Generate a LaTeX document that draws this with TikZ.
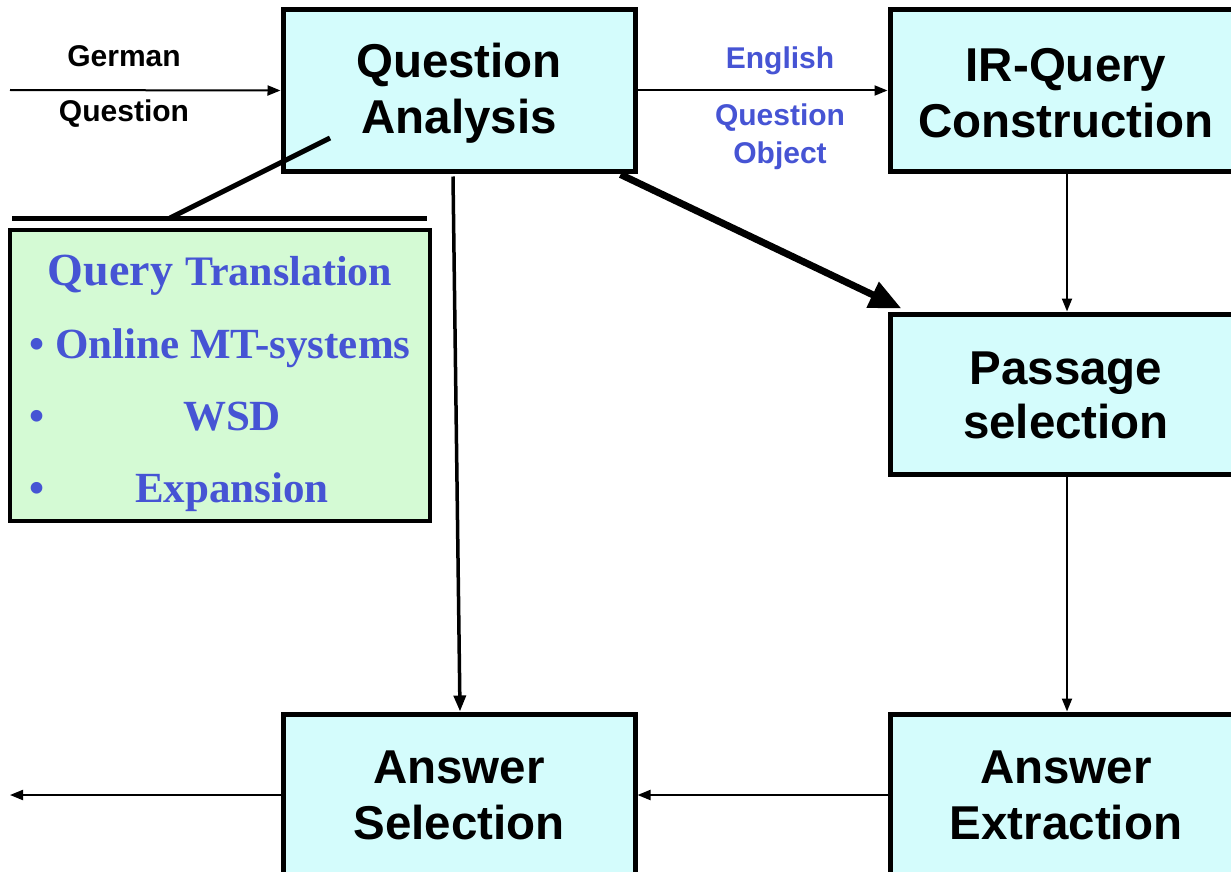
\documentclass[tikz,border=0pt]{standalone}
\usepackage{fontspec}
\setmainfont{Liberation Sans}
\newfontfamily\tnr{Liberation Serif}
\usetikzlibrary{arrows.meta}
\definecolor{boxfill}{RGB}{212,252,252}
\definecolor{greenfill}{RGB}{212,250,212}
\definecolor{lblue}{RGB}{70,84,212}
\tikzset{
  proc/.style={draw=black, line width=5pt, fill=boxfill, inner sep=0pt,
    minimum width=350pt, minimum height=161pt},
  ptext/.style={inner sep=0pt, align=center, font=\bfseries\fontsize{47.5}{56}\selectfont},
  lab/.style={inner sep=0pt, anchor=base, font=\bfseries\fontsize{30}{36}\selectfont},
  bluelab/.style={lab, text=lblue},
  flow/.style={-{Triangle[length=13pt,width=10pt]}, line width=2pt},
  midflow/.style={-{Triangle[length=16pt,width=12pt]}, line width=3.5pt},
  bigflow/.style={-{Triangle[length=32pt,width=27pt]}, line width=7pt},
  callout/.style={line width=5pt},
  qt/.style={inner sep=0pt, anchor=base, text=lblue, font=\tnr\bfseries\fontsize{43}{48}\selectfont},
}
\begin{document}
\begin{tikzpicture}[x=1pt,y=-1pt]
\useasboundingbox (0,0) rectangle (1231,872);
\clip (0,0) rectangle (1231,872);
\fill[white] (0,0) rectangle (1231,872);

% process boxes
\node[proc, minimum width=352pt] (QA) at (459,90.5) {};
\node[ptext] (QAt) at (459,93) {Question\\Analysis};
\node[proc] (IR) at (1065,90.5) {};
\node[ptext] (IRt) at (1066,93) {IR-Query\\Construction};
\node[proc, minimum height=160pt] (PS) at (1065,394) {};
\node[ptext, font=\bfseries\fontsize{47.5}{54}\selectfont] (PSt) at (1066,395) {Passage\\selection};
\node[proc, minimum height=162pt] (AE) at (1065,795) {};
\node[ptext] (AEt) at (1066,795) {Answer\\Extraction};
\node[proc, minimum width=352pt, minimum height=162pt] (AS) at (459,795) {};
\node[ptext] (ASt) at (459,795) {Answer\\Selection};

% green box
\node[draw=black, line width=4pt, fill=greenfill, minimum width=420pt, minimum height=291pt, inner sep=0pt] (QT) at (220,375.5) {};
\node[qt, font=\tnr\bfseries\fontsize{42}{48}\selectfont] (QTh) at (220,285) {{\fontsize{46}{50}\selectfont Query}\hspace{12pt}Translation};
\node[qt, anchor=base west] (b1) at (29,358) {\textbullet\ Online MT-systems};
\node[qt] (b2d) at (37,430) {\textbullet};
\node[qt] (b2) at (232,430) {WSD};
\node[qt] (b3d) at (37,502) {\textbullet};
\node[qt] (b3) at (232,502) {Expansion};

% callout line
\coordinate (c1) at (330,138);
\coordinate (c2) at (170,218);
\coordinate (h1) at (12,218);
\coordinate (h2) at (427,218);
\draw[callout] (c1) -- (c2);
\draw[callout] (h1) -- (h2);

% input arrow
\coordinate (in) at (10,90);
\draw[flow] (in) -- (QA.west);
\node[lab] (lg) at (124,67) {German};
\node[lab] (lq) at (124,122) {Question};

% QA -> IR
\draw[flow] (QA.east) -- (IR.west);
\node[bluelab] (le) at (780,69) {English};
\node[bluelab] (lqo) at (780,125) {Question};
\node[bluelab] (lo) at (780,163) {Object};

% QA -> Passage (thick)
\draw[bigflow] ([xshift=-17pt,yshift=-1pt]QA.south east) -- ([xshift=14pt,yshift=3pt]PS.north west);

% QA -> Answer Selection
\draw[midflow] ([xshift=-6pt,yshift=-3pt]QA.south) -- ([xshift=1pt]AS.north);

% IR -> Passage
\draw[flow] ([xshift=2pt]IR.south) -- ([xshift=2pt]PS.north);
% Passage -> Extraction
\draw[flow] ([xshift=2pt]PS.south) -- ([xshift=2pt]AE.north);
% Extraction -> Selection
\draw[flow] (AE.west) -- (AS.east);
% Selection -> out
\coordinate (out) at (10,795);
\draw[flow] (AS.west) -- (out);
\end{tikzpicture}
\end{document}
